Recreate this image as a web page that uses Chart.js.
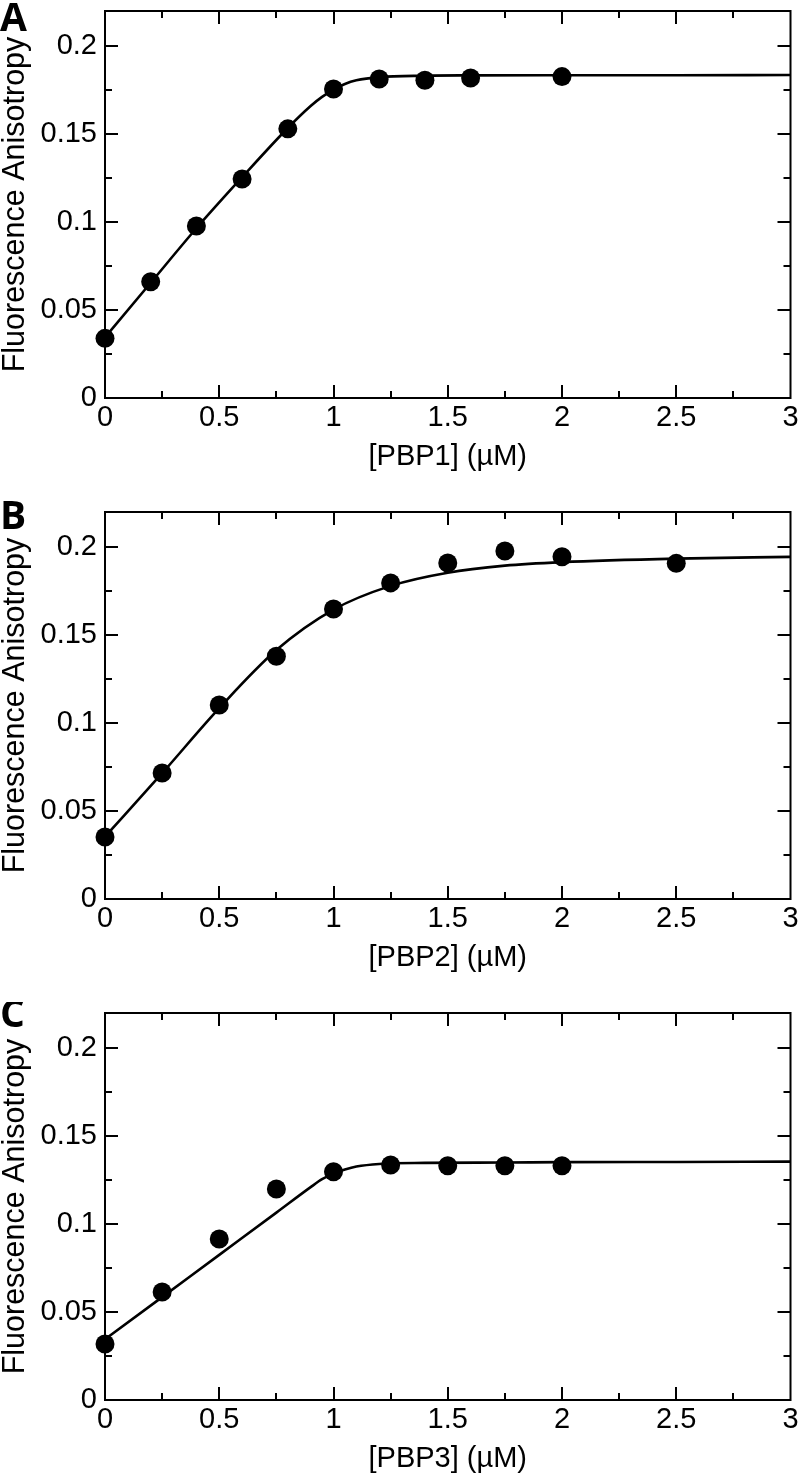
<!DOCTYPE html>
<html><head><meta charset="utf-8">
<script src="https://cdn.jsdelivr.net/npm/chart.js@4/dist/chart.umd.min.js"></script>
<style>
html,body{margin:0;padding:0;background:#fff;overflow:hidden;width:800px;height:1474px;}
.p{position:absolute;left:0;width:800px;height:501px;}
</style></head><body>
<div class="p" style="top:0"><canvas id="cA" width="800" height="501"></canvas></div>
<div class="p" style="top:501px"><canvas id="cB" width="800" height="501"></canvas></div>
<div class="p" style="top:1002px"><canvas id="cC" width="800" height="501"></canvas></div>
<script>
// ---- data ----
const panelLetters = ['A', 'B', 'C'];
const xTitles = ['[PBP1] (µM)', '[PBP2] (µM)', '[PBP3] (µM)'];
const yTitle = 'Fluorescence Anisotropy';
const xTickLabels = ['0', '0.5', '1', '1.5', '2', '2.5', '3'];
const yTickLabels = ['0', '0.05', '0.1', '0.15', '0.2'];

// Panel A (PBP1)
const ptsAx = [0, 0.2, 0.4, 0.6, 0.8, 1.0, 1.2, 1.4, 1.6, 2.0];
const ptsAy = [0.0339, 0.0661, 0.0978, 0.1245, 0.1530, 0.1757, 0.1813, 0.1806, 0.1819, 0.1827];
const fitAx = [0, 0.2, 0.4, 0.6, 0.8, 0.9, 0.95, 1.0, 1.05, 1.1, 1.2, 1.4, 1.6, 2.0, 2.5, 3.0];
const fitAy = [0.0345, 0.0655, 0.0965, 0.1255, 0.1535, 0.1660, 0.1712, 0.1752, 0.1785, 0.1806, 0.1824, 0.1832, 0.1834, 0.1835, 0.1835, 0.1836];

// Panel B (PBP2)
const ptsBx = [0, 0.25, 0.5, 0.75, 1.0, 1.25, 1.5, 1.75, 2.0, 2.5];
const ptsBy = [0.0352, 0.0716, 0.1103, 0.1380, 0.1649, 0.1797, 0.1910, 0.1978, 0.1946, 0.1908];
const fitBx = [0, 0.25, 0.5, 0.75, 1.0, 1.25, 1.5, 1.75, 2.0, 2.5, 3.0];
const fitBy = [0.0355, 0.0715, 0.1085, 0.1415, 0.1645, 0.1780, 0.1855, 0.1895, 0.1915, 0.1935, 0.1945];

// Panel C (PBP3)
const ptsCx = [0, 0.25, 0.5, 0.75, 1.0, 1.25, 1.5, 1.75, 2.0];
const ptsCy = [0.0318, 0.0614, 0.0915, 0.1199, 0.1298, 0.1336, 0.1332, 0.1332, 0.1332];
const fitCx = [0, 0.25, 0.5, 0.75, 0.9, 0.95, 1.0, 1.05, 1.1, 1.2, 1.4, 1.75, 2.0, 2.5, 3.0];
const fitCy = [0.0345, 0.0585, 0.0825, 0.1065, 0.1210, 0.1255, 0.1287, 0.1310, 0.1327, 0.1342, 0.1348, 0.1350, 0.1352, 0.1353, 0.1355];

// ---- drawing ----
const FONT = '"Liberation Sans", Arial, sans-serif';
const near = (v, s) => Math.abs(v / s - Math.round(v / s)) < 1e-6;

const framePlugin = {
  id: 'frame',
  beforeDatasetsDraw(chart) {
    const {ctx, chartArea: a, scales: {x, y}} = chart;
    ctx.save();
    ctx.strokeStyle = '#000';
    ctx.lineWidth = 2;
    ctx.lineCap = 'butt';
    ctx.beginPath();
    x.ticks.forEach(t => {
      const px = Math.round(x.getPixelForValue(t.value));
      if (px <= a.left + 1 || px >= a.right - 1) return;
      const len = near(t.value, 0.5) ? 13 : 7;
      ctx.moveTo(px, a.bottom); ctx.lineTo(px, a.bottom - len);
      ctx.moveTo(px, a.top); ctx.lineTo(px, a.top + len);
    });
    y.ticks.forEach(t => {
      const py = Math.round(y.getPixelForValue(t.value));
      if (py >= a.bottom - 1 || py <= a.top + 1) return;
      const len = near(t.value, 0.05) ? 13 : 7;
      ctx.moveTo(a.left, py); ctx.lineTo(a.left + len, py);
      ctx.moveTo(a.right, py); ctx.lineTo(a.right - len, py);
    });
    ctx.stroke();
    ctx.strokeRect(a.left, a.top, a.right - a.left, a.bottom - a.top);
    ctx.restore();
  },
  afterDraw(chart, args, opts) {
    const ctx = chart.ctx;
    ctx.save();
    ctx.fillStyle = '#000';
    ctx.font = 'bold 39px "Open Sans", "DejaVu Sans", sans-serif';
    ctx.textBaseline = 'alphabetic';
    ctx.textAlign = 'left';
    ctx.fillText(opts.letter, 0, opts.baseline);
    ctx.restore();
  }
};

function makeChart(id, letter, baseline, xTitle, px, py, fx, fy) {
  const pts = px.map((v, i) => ({x: v, y: py[i]}));
  const fit = fx.map((v, i) => ({x: v, y: fy[i]}));
  return new Chart(document.getElementById(id), {
    type: 'scatter',
    data: {
      datasets: [
        {
          data: fit, showLine: true, borderColor: '#000', borderWidth: 2.6,
          pointRadius: 0, cubicInterpolationMode: 'monotone', clip: false, order: 2
        },
        {
          data: pts, showLine: false, backgroundColor: '#000', borderColor: '#000',
          pointRadius: 9.5, borderWidth: 0, clip: false, order: 1
        }
      ]
    },
    options: {
      responsive: false,
      animation: false,
      devicePixelRatio: 1,
      layout: {padding: {top: 11, right: 6, bottom: 0, left: 0}},
      plugins: {
        legend: {display: false}, tooltip: {enabled: false},
        frame: {letter: letter, baseline: baseline}
      },
      scales: {
        x: {
          type: 'linear', min: 0, max: 3,
          grid: {display: false, drawTicks: false},
          border: {display: false},
          ticks: {
            stepSize: 0.25, autoSkip: false, maxRotation: 0, padding: 3,
            color: '#000', font: {family: FONT, size: 29},
            callback: v => near(v, 0.5) ? xTickLabels[Math.round(v / 0.5)] : ''
          },
          title: {display: true, text: xTitle, color: '#000',
            font: {family: FONT, size: 29}, padding: {top: 0, bottom: 27}},
          afterFit: s => { s.height = 103; s.paddingLeft = 0; s.paddingRight = 0; }
        },
        y: {
          type: 'linear', min: 0, max: 0.22,
          grid: {display: false, drawTicks: false},
          border: {display: false},
          ticks: {
            stepSize: 0.025, includeBounds: false, autoSkip: false, padding: 8,
            color: '#000', font: {family: FONT, size: 29},
            callback: v => near(v, 0.05) ? yTickLabels[Math.round(v / 0.05)] : ''
          },
          title: {display: true, text: yTitle, color: '#000',
            font: {family: FONT, size: 30.5, lineHeight: 1}, padding: {top: 0, bottom: 0}},
          afterFit: s => { s.width = 105; s.paddingTop = 0; s.paddingBottom = 0; }
        }
      }
    },
    plugins: [framePlugin]
  });
}

makeChart('cA', panelLetters[0], 31, xTitles[0], ptsAx, ptsAy, fitAx, fitAy);
makeChart('cB', panelLetters[1], 28, xTitles[1], ptsBx, ptsBy, fitBx, fitBy);
makeChart('cC', panelLetters[2], 25, xTitles[2], ptsCx, ptsCy, fitCx, fitCy);
</script>
</body></html>
